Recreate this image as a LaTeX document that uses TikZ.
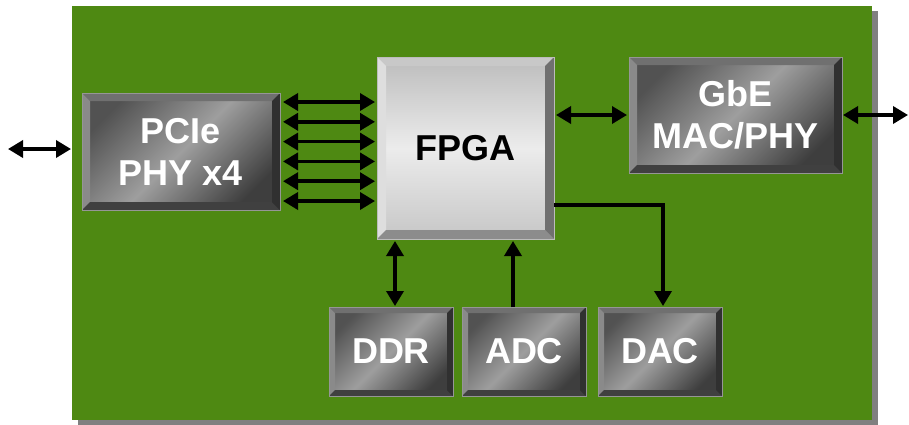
\documentclass[tikz,border=0pt]{standalone}
\usepackage{fontspec}
\setmainfont{Liberation Sans}
\usetikzlibrary{arrows.meta,shadows}

\definecolor{boardgreen}{RGB}{78,137,18}
\definecolor{boardshade}{RGB}{128,128,128}
% dark chips
\definecolor{chipA}{RGB}{82,82,82}
\definecolor{chipB}{RGB}{158,158,158}
\definecolor{chipC}{RGB}{62,62,62}
\definecolor{chiptop}{RGB}{112,112,112}
\definecolor{chipleft}{RGB}{138,138,138}
\definecolor{chipbot}{RGB}{64,64,64}
\definecolor{chipright}{RGB}{48,48,48}
\definecolor{chipedge}{RGB}{150,150,150}
% fpga
\definecolor{fpgaA}{RGB}{188,188,188}
\definecolor{fpgaB}{RGB}{236,236,236}
\definecolor{fpgaC}{RGB}{198,198,198}
\definecolor{fpgatop}{RGB}{200,200,200}
\definecolor{fpgaleft}{RGB}{222,222,222}
\definecolor{fpgabot}{RGB}{140,140,140}
\definecolor{fpgaright}{RGB}{112,112,112}

% bevel faces: width, top, left, bottom, right
\newcommand{\bevels}[5]{%
  \path (path picture bounding box.north west) coordinate (bnw)
        (path picture bounding box.north east) coordinate (bne)
        (path picture bounding box.south west) coordinate (bsw)
        (path picture bounding box.south east) coordinate (bse);
  \fill[#2] (bnw) -- (bne) -- ([xshift=-#1,yshift=-#1]bne) -- ([xshift=#1,yshift=-#1]bnw) -- cycle;
  \fill[#3] (bnw) -- (bsw) -- ([xshift=#1,yshift=#1]bsw) -- ([xshift=#1,yshift=-#1]bnw) -- cycle;
  \fill[#4] (bsw) -- (bse) -- ([xshift=-#1,yshift=#1]bse) -- ([xshift=#1,yshift=#1]bsw) -- cycle;
  \fill[#5] (bne) -- (bse) -- ([xshift=-#1,yshift=#1]bse) -- ([xshift=-#1,yshift=-#1]bne) -- cycle;
}

\tikzset{
  link/.style={line width=3.5pt, draw=black},
  bus/.style={link, <->},
  board/.style={rectangle, fill=boardgreen, inner sep=0pt, outer sep=0pt,
    minimum width=800pt, minimum height=414pt,
    drop shadow={shadow xshift=6pt, shadow yshift=-5pt, fill=boardshade, opacity=1}},
  chip/.style={rectangle, inner sep=0pt, outer sep=0pt, align=center,
    font=\fontsize{36}{42}\selectfont\bfseries, text=white,
    draw=chipedge, line width=0.8pt,
    top color=chipA, bottom color=chipC, middle color=chipB, shading angle=45,
    path picture={\bevels{8pt}{chiptop}{chipleft}{chipbot}{chipright}}},
  smallchip/.style={chip, minimum width=124pt, minimum height=89pt,
    path picture={\bevels{6pt}{chiptop}{chipleft}{chipbot}{chipright}}},
  fpgachip/.style={chip, text=black, draw=fpgaA,
    top color=fpgaA, bottom color=fpgaC, middle color=fpgaB,
    path picture={\bevels{9pt}{fpgatop}{fpgaleft}{fpgabot}{fpgaright}}}
}

\begin{document}
\begin{tikzpicture}[x=1pt, y=-1pt, >={Triangle[length=15pt,width=17pt]}]
  \useasboundingbox (0,0) rectangle (909,424);

  % board
  \node[board] (board) at (472,213) {};

  % chips
  \node[chip, minimum width=198pt, minimum height=117pt] (pcie) at (181,151.5) {PCIe\\PHY x4};
  \node[fpgachip, minimum width=177pt, minimum height=182pt] (fpga) at (465.5,148) {FPGA};
  \node[chip, minimum width=213pt, minimum height=116pt] (gbe) at (735.5,115) {GbE\\MAC/PHY};
  \node[smallchip] (ddr) at (391,351.5) {DDR};
  \node[smallchip] (adc) at (524,351.5) {ADC};
  \node[smallchip] (dac) at (660,351.5) {DAC};

  % host and network sides
  \coordinate (host) at (8,149);
  \coordinate (net) at (908,115);
  \draw[bus, shorten >=1pt] (host) -- (host -| board.west);
  \draw[bus, shorten <=1pt] (gbe.east) -- (gbe.east -| net);

  % pcie lanes
  \foreach \dy in {-49.5,-29.7,-9.9,9.9,29.7,49.5} {
    \path (pcie.east) ++(0,\dy) coordinate (lane);
    \draw[bus, shorten <=3pt, shorten >=2pt] (lane) -- (lane -| fpga.west);
  }

  \draw[bus, shorten <=2pt, shorten >=2pt] (fpga.east |- gbe.west) -- (gbe.west);

  % memory and converters
  \coordinate (ddrtop) at ([xshift=4pt]ddr.north);
  \coordinate (adctop) at ([xshift=-11pt]adc.north);
  \coordinate (dacout) at ([yshift=34pt]fpga.south east);
  \draw[bus, shorten <=1pt, shorten >=2pt] (ddrtop) -- (ddrtop |- fpga.south);
  \draw[link, ->, shorten >=2pt] (adctop) -- (adctop |- fpga.south);
  \draw[link, ->, shorten >=1pt] (dacout) -| ([xshift=3pt]dac.north);
\end{tikzpicture}
\end{document}
